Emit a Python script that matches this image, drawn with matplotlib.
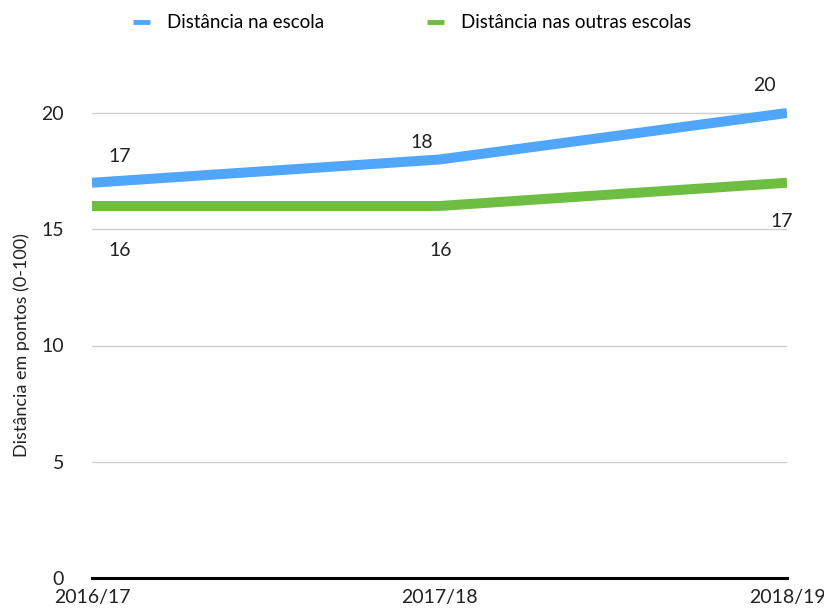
import matplotlib.pyplot as plt

anos = ["2016/17", "2017/18", "2018/19"]
na_escola = [17, 18, 20]
outras_escolas = [16, 16, 17]

plt.rcParams['font.family'] = ['Lato', 'DejaVu Sans']

fig = plt.figure(figsize=(8.24, 6.1), dpi=100)
ax = fig.add_axes([92 / 824, 32 / 610, (787 - 92) / 824, (578 - 60) / 610])

x = list(range(len(anos)))
ax.plot(x, na_escola, color='#4FA6FA', lw=7.2, solid_capstyle='butt',
        label='Distância na escola', zorder=3)
ax.plot(x, outras_escolas, color='#6EBE44', lw=7.2, solid_capstyle='butt',
        label='Distância nas outras escolas', zorder=3)

# rótulos de dados (offset em pontos)
off_azul = [(20, 19), (-13, 12), (-16, 20)]
off_verde = [(20, -32), (1, -32), (-4, -28)]
for i in x:
    ax.annotate(str(na_escola[i]), (x[i], na_escola[i]), xytext=off_azul[i],
                textcoords='offset points', ha='center', va='center',
                fontsize=14, color='#222222', annotation_clip=False)
    ax.annotate(str(outras_escolas[i]), (x[i], outras_escolas[i]), xytext=off_verde[i],
                textcoords='offset points', ha='center', va='center',
                fontsize=14, color='#222222', annotation_clip=False)

ax.set_xlim(0, 2)
ax.set_ylim(0, (578 - 60) / ((578 - 113) / 20))
ax.set_yticks([0, 5, 10, 15, 20])
ax.set_xticks(x)
ax.set_xticklabels(anos)
ax.grid(axis='y', color='#d0d0d0', lw=1)
ax.set_axisbelow(True)
for s in ['top', 'right', 'left']:
    ax.spines[s].set_visible(False)
ax.spines['bottom'].set_linewidth(2.2)
ax.spines['bottom'].set_color('black')
ax.spines['bottom'].set_zorder(4)
ax.tick_params(axis='both', length=0, labelsize=14, colors='#222222')
ax.tick_params(axis='y', pad=20)
ax.tick_params(axis='x', pad=8)

fig.text(22 / 824, 1 - 345 / 610, 'Distância em pontos (0-100)', rotation=90,
         ha='center', va='center', fontsize=13, color='#222222')

ax.legend(loc='center', bbox_to_anchor=(0.5, 1 - 22 / 610), bbox_transform=fig.transFigure,
          ncol=2, frameon=False, fontsize=13.5, handlelength=0.9, handleheight=0.5,
          columnspacing=5.5, handletextpad=0.9)
for h in ax.get_legend().get_lines():
    h.set_linewidth(3.5)

fig.savefig('out.png', dpi=100)
